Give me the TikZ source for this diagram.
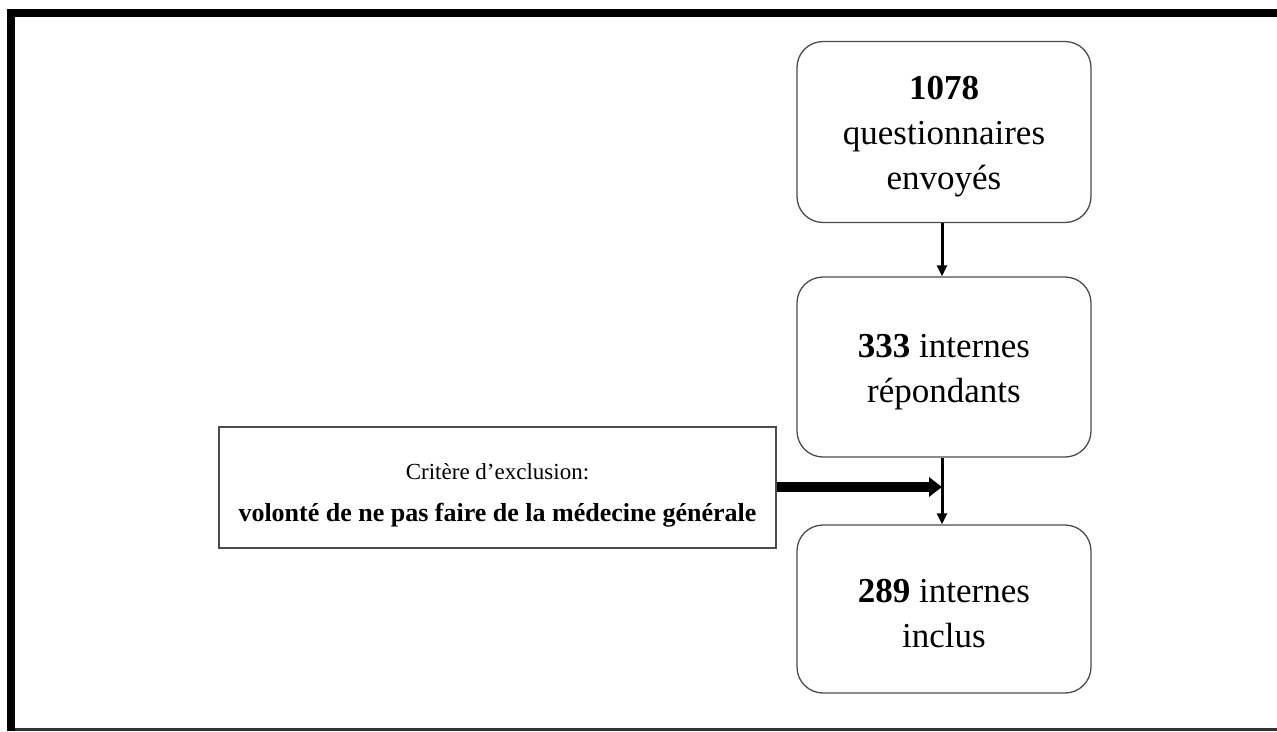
\documentclass[tikz,border=0pt]{standalone}
\usepackage{fontspec}
\setmainfont{Liberation Serif}
\usetikzlibrary{arrows.meta}

\tikzset{
  flowbox/.style={draw=black!70,line width=1.3pt,rounded corners=26pt,
    minimum width=294pt,inner sep=0pt},
  flowtext/.style={align=center,inner sep=0pt,yshift=-5pt,
    font=\fontsize{35}{45}\selectfont},
  exclbox/.style={draw=black!70,line width=1.2pt,minimum width=557pt,
    minimum height=121pt,inner sep=0pt},
  excltext/.style={align=center,inner sep=0pt,yshift=-8pt},
  flowarrow/.style={-{Triangle[length=11pt,width=10pt]},line width=3pt},
  thickarrow/.style={-{Triangle[length=13pt,width=19pt]},line width=9.5pt}
}

\begin{document}
\begin{tikzpicture}[x=1pt,y=-1pt]
    \useasboundingbox (0,0) rectangle (1277,731);

    % Frame
    \fill (7,9) rectangle (1277,17);
    \fill (7,9) rectangle (15,731);
    \fill[black!80] (15,728) rectangle (1277,730.5);

    % Boxes
    \node[flowbox,minimum height=181pt] (sent) at (944,132) {};
    \node[flowbox,minimum height=180pt] (resp) at (944,367) {};
    \node[flowbox,minimum height=168pt] (incl) at (944,609) {};
    \node[exclbox] (excl) at (497.5,487.5) {};

    % Texts
    \node[flowtext] (sent-t) at (sent.center)
        {\textbf{1078}\\questionnaires\\envoyés};
    \node[flowtext] (resp-t) at (resp.center)
        {\textbf{333} internes\\répondants};
    \node[flowtext] (incl-t) at (incl.center)
        {\textbf{289} internes\\inclus};
    \node[excltext] (excl-t) at (excl.center)
        {{\fontsize{23}{27}\selectfont Critère d’exclusion:}\\[22pt]
         {\fontsize{26}{30}\selectfont\bfseries volonté de ne pas faire de la médecine générale}};

    % Arrows
    \coordinate (join) at (942,487);
    \draw[flowarrow] (sent.south -| join) -- (resp.north -| join);
    \draw[flowarrow] (resp.south -| join) -- (incl.north -| join);
    \draw[thickarrow] (excl.east |- join) -- (join);
\end{tikzpicture}
\end{document}
